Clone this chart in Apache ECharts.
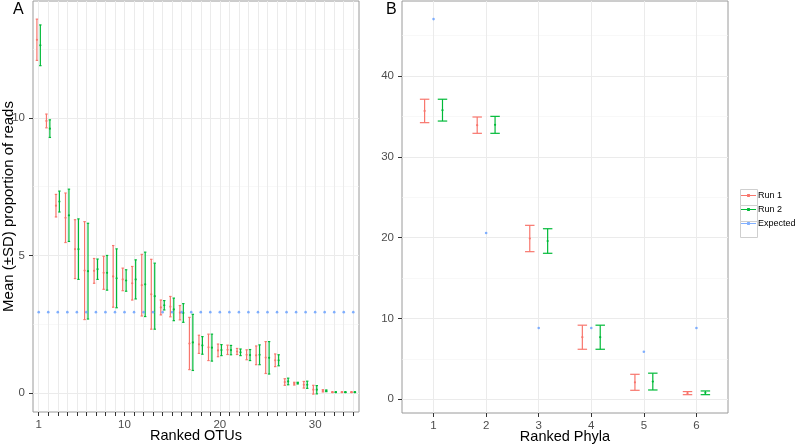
<!DOCTYPE html>
<html>
<head>
<meta charset="utf-8">
<script src="https://cdn.jsdelivr.net/npm/echarts@6/dist/echarts.min.js"></script>
<style>html,body{margin:0;padding:0;background:#fff}#c{width:797px;height:445px}</style>
</head>
<body>
<div id="c"></div>
<script>
// ---- Panel A: ranked OTUs ----
const otuRanks = [1,2,3,4,5,6,7,8,9,10,11,12,13,14,15,16,17,18,19,20,21,22,23,24,25,26,27,28,29,30,31,32,33,34];
const otuRun1Mean = [12.84,9.89,6.81,6.37,5.23,4.45,4.44,4.37,4.24,4.13,3.99,3.92,3.59,3.11,3.14,2.92,1.80,1.77,1.66,1.55,1.57,1.51,1.39,1.37,1.29,1.19,0.40,0.34,0.30,0.12,0.08,0.03,0.03,0.03];
const otuRun1SD   = [0.75,0.25,0.41,0.90,1.07,1.78,0.45,0.60,1.12,0.41,0.61,1.12,1.27,0.27,0.37,0.26,0.95,0.33,0.48,0.23,0.17,0.11,0.18,0.34,0.58,0.23,0.12,0.05,0.12,0.16,0.04,0.01,0.01,0.01];
const otuRun2Mean = [12.64,9.61,6.96,6.46,5.23,4.43,4.50,4.37,4.17,4.09,4.13,3.95,3.52,3.19,3.04,2.91,1.84,1.73,1.65,1.56,1.56,1.48,1.38,1.39,1.28,1.19,0.42,0.36,0.30,0.12,0.08,0.03,0.03,0.03];
const otuRun2SD   = [0.74,0.32,0.38,0.95,1.10,1.74,0.37,0.63,1.07,0.39,0.71,1.17,1.20,0.17,0.41,0.34,1.02,0.32,0.49,0.20,0.17,0.12,0.20,0.36,0.59,0.20,0.12,0.03,0.13,0.15,0.03,0.01,0.01,0.01];
const otuExpected = [2.94,2.94,2.94,2.94,2.94,2.94,2.94,2.94,2.94,2.94,2.94,2.94,2.94,2.94,2.94,2.94,2.94,2.94,2.94,2.94,2.94,2.94,2.94,2.94,2.94,2.94,2.94,2.94,2.94,2.94,2.94,2.94,2.94,2.94];
const otuTickLabels = [1,10,20,30];
const otuYLabels = [0,5,10];
const otuYMinor = [2.5,7.5,12.5];

// ---- Panel B: ranked phyla ----
const phylaRanks = [1,2,3,4,5,6];
const phylaRun1Mean = [35.69,33.93,19.90,7.68,2.10,0.76];
const phylaRun1SD   = [1.45,1.01,1.63,1.49,0.99,0.19];
const phylaRun2Mean = [35.79,33.97,19.59,7.68,2.19,0.80];
const phylaRun2SD   = [1.35,1.05,1.52,1.49,1.04,0.23];
const phylaExpected = [47.06,20.59,8.82,8.82,5.88,8.82];
const phylaYLabels = [0,10,20,30,40];
const phylaYMinor = [5,15,25,35,45];

const seriesNames = ['Run 1','Run 2','Expected'];
const COL = {'Run 1':'#F8766D','Run 2':'#00BA38','Expected':'#619CFF'};
const FONT = 'Liberation Sans, Arial, Helvetica, sans-serif';

function triples(x, m, s){ return x.map((v,i)=>[v, m[i], s[i]]); }
function pairs(x, y){ return x.map((v,i)=>[v, y[i]]); }

function errRender(dodge, capW, color, lw, dotR){
  return function(params, api){
    const x = api.value(0) + dodge, m = api.value(1), s = api.value(2);
    const t = api.coord([x, m + s]), b = api.coord([x, m - s]);
    const tl = api.coord([x - capW/2, m + s]), tr = api.coord([x + capW/2, m + s]);
    const bl = api.coord([x - capW/2, m - s]), br = api.coord([x + capW/2, m - s]);
    const c = api.coord([x, m]);
    const st = {stroke: color, lineWidth: lw};
    return {type:'group', children:[
      {type:'line', shape:{x1:t[0],y1:t[1],x2:b[0],y2:b[1]}, style:st},
      {type:'line', shape:{x1:tl[0],y1:tl[1],x2:tr[0],y2:tr[1]}, style:st},
      {type:'line', shape:{x1:bl[0],y1:bl[1],x2:br[0],y2:br[1]}, style:st},
      {type:'circle', shape:{cx:c[0],cy:c[1],r:dotR}, style:{fill:color}}
    ]};
  };
}

const gridStyle = {show:true, borderColor:'#9a9a9a', borderWidth:1, backgroundColor:'#fff', containLabel:false, outerBoundsMode:'none'};
const majorLine = {show:true, lineStyle:{color:'#ebebeb', width:1}};
const minorLine = {show:true, lineStyle:{color:'#f3f3f3', width:0.6}};
const tickStyle = {show:true, length:4, lineStyle:{color:'#333', width:1}};
const labelStyle = {color:'#4d4d4d', fontSize:11.5, fontFamily:FONT};
const nameStyle = {color:'#000', fontSize:14.5, fontFamily:FONT};
const noLine = {show:false, onZero:false};

const chart = echarts.init(document.getElementById('c'), null, {renderer:'canvas'});
chart.setOption({
  animation:false,
  backgroundColor:'#fff',
  grid:[
    Object.assign({left:33, top:1, width:326, height:411}, gridStyle),
    Object.assign({left:402, top:1, width:326, height:412}, gridStyle)
  ],
  xAxis:[
    {type:'value', gridIndex:0, min:0.4, max:34.6, position:'bottom',
     axisLine:noLine, axisTick:Object.assign({customValues:otuRanks}, tickStyle),
     axisLabel:Object.assign({customValues:otuTickLabels, margin:7}, labelStyle),
     splitLine:majorLine,
     name:'Ranked OTUs', nameLocation:'middle', nameGap:16, nameMoveOverlap:false, nameTextStyle:nameStyle},
    {type:'value', gridIndex:1, min:0.4, max:6.6, position:'bottom',
     axisLine:noLine, axisTick:Object.assign({customValues:phylaRanks}, tickStyle),
     axisLabel:Object.assign({customValues:phylaRanks, margin:7}, labelStyle),
     splitLine:majorLine,
     name:'Ranked Phyla', nameLocation:'middle', nameGap:16, nameMoveOverlap:false, nameTextStyle:nameStyle}
  ],
  yAxis:[
    {type:'value', gridIndex:0, min:-0.69, max:14.25, position:'left',
     axisLine:noLine, axisTick:Object.assign({customValues:otuYLabels}, tickStyle),
     axisLabel:Object.assign({customValues:otuYLabels, margin:8}, labelStyle),
     splitLine:majorLine,
     name:'Mean (±SD) proportion of reads', nameLocation:'middle', nameGap:17, nameMoveOverlap:false, nameRotate:90, nameTextStyle:Object.assign({}, nameStyle, {fontSize:15})},
    {type:'value', gridIndex:1, min:-1.70, max:49.3, position:'left',
     axisLine:noLine, axisTick:Object.assign({customValues:phylaYLabels}, tickStyle),
     axisLabel:Object.assign({customValues:phylaYLabels, margin:8}, labelStyle),
     splitLine:majorLine},
    {type:'value', gridIndex:0, min:-0.69, max:14.25, position:'left',
     axisLine:noLine, axisTick:{show:false, customValues:otuYMinor},
     axisLabel:{show:false, customValues:otuYMinor}, splitLine:minorLine, z:0},
    {type:'value', gridIndex:1, min:-1.70, max:49.3, position:'left',
     axisLine:noLine, axisTick:{show:false, customValues:phylaYMinor},
     axisLabel:{show:false, customValues:phylaYMinor}, splitLine:minorLine, z:0}
  ],
  legend:{
    data:seriesNames, orient:'vertical', left:741, top:191, padding:0,
    itemWidth:15, itemHeight:3, itemGap:5,
    icon:'path://M0,7 L16,7 L16,8 L0,8 Z M6.5,6 L9.5,6 L9.5,9 L6.5,9 Z',
    textStyle:{color:'#000', fontSize:9, fontFamily:FONT, padding:[0,0,0,-3], width:60, overflow:'none'},
    selectedMode:false
  },
  graphic:[
    {type:'text', left:13, top:2, style:{text:'A', fontSize:16, fontFamily:FONT, fill:'#000'}},
    {type:'text', left:386, top:2, style:{text:'B', fontSize:16, fontFamily:FONT, fill:'#000'}},
    {type:'rect', shape:{x:740.5, y:189.5, width:17, height:16}, style:{fill:'#fff', stroke:'#cfcfcf', lineWidth:1}, z:-1},
    {type:'rect', shape:{x:740.5, y:205.5, width:17, height:16}, style:{fill:'#fff', stroke:'#cfcfcf', lineWidth:1}, z:-1},
    {type:'rect', shape:{x:740.5, y:221.5, width:17, height:16}, style:{fill:'#fff', stroke:'#cfcfcf', lineWidth:1}, z:-1}
  ],
  series:[
    {name:'Run 1', type:'custom', xAxisIndex:0, yAxisIndex:0, itemStyle:{color:COL['Run 1']},
     data:triples(otuRanks, otuRun1Mean, otuRun1SD), encode:{x:0, y:1},
     renderItem:errRender(-0.19, 0.25, COL['Run 1'], 1.2, 1.1)},
    {name:'Run 2', type:'custom', xAxisIndex:0, yAxisIndex:0, itemStyle:{color:COL['Run 2']},
     data:triples(otuRanks, otuRun2Mean, otuRun2SD), encode:{x:0, y:1},
     renderItem:errRender(0.17, 0.25, COL['Run 2'], 1.2, 1.1)},
    {name:'Expected', type:'scatter', xAxisIndex:0, yAxisIndex:0, itemStyle:{color:COL['Expected']},
     symbol:'circle', symbolSize:2.6, data:pairs(otuRanks, otuExpected)},
    {name:'Run 1', type:'custom', xAxisIndex:1, yAxisIndex:1, itemStyle:{color:COL['Run 1']},
     data:triples(phylaRanks, phylaRun1Mean, phylaRun1SD), encode:{x:0, y:1},
     renderItem:errRender(-0.17, 0.18, COL['Run 1'], 1.2, 1.1)},
    {name:'Run 2', type:'custom', xAxisIndex:1, yAxisIndex:1, itemStyle:{color:COL['Run 2']},
     data:triples(phylaRanks, phylaRun2Mean, phylaRun2SD), encode:{x:0, y:1},
     renderItem:errRender(0.17, 0.18, COL['Run 2'], 1.2, 1.1)},
    {name:'Expected', type:'scatter', xAxisIndex:1, yAxisIndex:1, itemStyle:{color:COL['Expected']},
     symbol:'circle', symbolSize:2.6, data:pairs(phylaRanks, phylaExpected)}
  ]
});
</script>
</body>
</html>
